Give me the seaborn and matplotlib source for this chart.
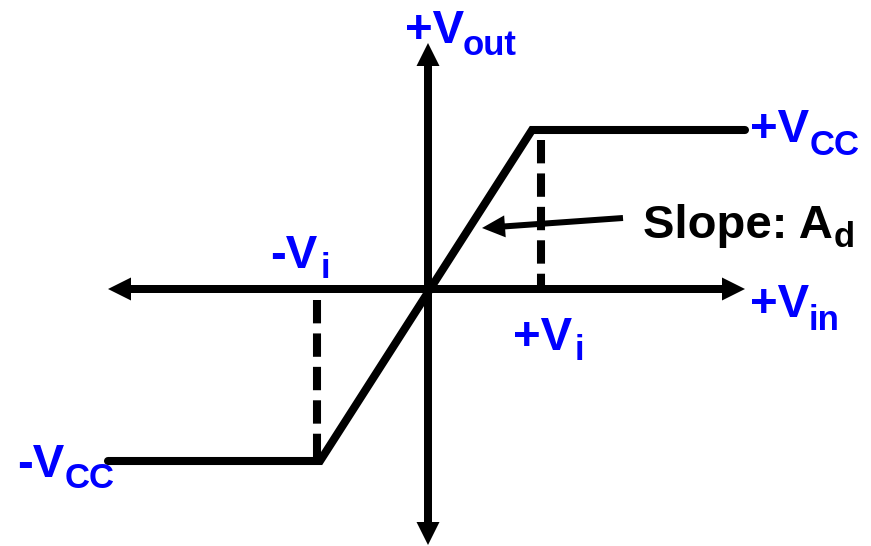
import pandas as pd
import matplotlib
matplotlib.use("Agg")
import matplotlib.pyplot as plt
import seaborn as sns

# transfer curve of the op-amp (1 unit = 100 px)
vin_curve = [-3.20, -1.08, 1.04, 3.17]
vout_curve = [-1.72, -1.72, 1.59, 1.59]

# dashed guides at -Vi and +Vi
vi_neg, vi_pos = -1.11, 1.13
vcc_neg_guide = [-0.11, -1.72]
vcc_pos_guide = [1.49, 0.0]

# axis extents
x_axis = [-3.20, 3.17]
y_axis = [-2.56, 2.46]

blue = "#0000ff"

sns.set_style("white")
plt.rcParams['font.family'] = ['Liberation Sans', 'DejaVu Sans']

fig = plt.figure(figsize=(8.71, 5.46), dpi=100)
ax = fig.add_axes([0, 0, 1, 1])
ax.set_xlim(-4.28, 4.43)
ax.set_ylim(-2.57, 2.89)
ax.axis('off')

# axes with arrowheads
arr = dict(width=0.08, head_width=0.23, head_length=0.23,
           length_includes_head=True, color='black', lw=0)
ax.arrow(0, 0, x_axis[0], 0, **arr)
ax.arrow(0, 0, x_axis[1], 0, **arr)
ax.arrow(0, 0, 0, y_axis[0], **arr)
ax.arrow(0, 0, 0, y_axis[1], **arr)

# dashed lines
ax.plot([vi_neg, vi_neg], vcc_neg_guide, color='black', lw=5.8,
        linestyle=(0, (2.9, 1.25)), dash_capstyle='butt')
ax.plot([vi_pos, vi_pos], vcc_pos_guide, color='black', lw=5.8,
        linestyle=(0, (2.9, 1.25)), dash_capstyle='butt')

# the curve
df = pd.DataFrame({'Vin': vin_curve, 'Vout': vout_curve})
sns.lineplot(data=df, x='Vin', y='Vout', color='black', lw=5.8,
             sort=False, ax=ax, solid_joinstyle='miter')
ax.set_xlabel('')
ax.set_ylabel('')

# slope pointer
ax.arrow(1.95, 0.71, 0.54 - 1.95, 0.61 - 0.71, width=0.06, head_width=0.22,
         head_length=0.23, length_includes_head=True, color='black', lw=0)

big = dict(fontsize=34, fontweight='bold', va='baseline', ha='left')
small = dict(fontsize=25, fontweight='bold', va='baseline', ha='left')

def label(x1, y1, main, x2, y2, sub, color=blue):
    ax.text(x1, y1, main, color=color, **big)
    ax.text(x2, y2, sub, color=color, **small)

label(-0.23, 2.46, '+V', 0.35, 2.34, 'out')
label(3.22, 1.47, '+V', 3.82, 1.34, 'CC')
label(2.15, 0.51, 'Slope: A', 4.06, 0.42, 'd', color='black')
label(-1.58, 0.21, '-V', -1.07, 0.11, 'i')
label(3.22, -0.28, '+V', 3.81, -0.41, 'in')
label(0.85, -0.61, '+V', 1.47, -0.71, 'i')
label(-4.11, -1.88, '-V', -3.63, -1.99, 'CC')

fig.savefig('out.png', dpi=100)
